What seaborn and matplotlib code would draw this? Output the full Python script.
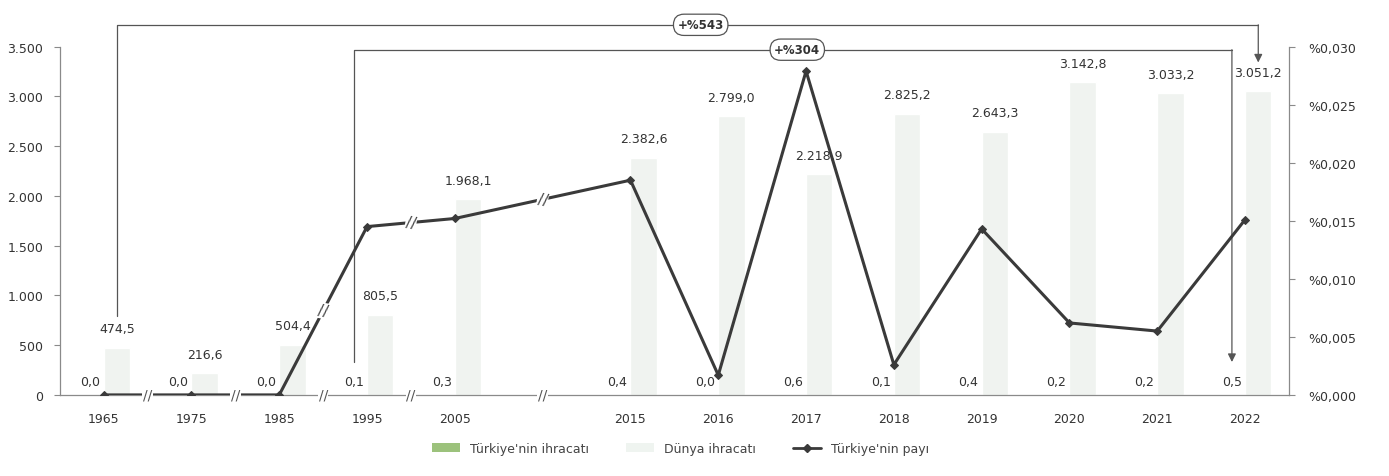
import numpy as np
import pandas as pd
import matplotlib.pyplot as plt
import seaborn as sns
from matplotlib.patches import Patch
from matplotlib.lines import Line2D

sns.set_theme(style='white')
plt.rcParams['font.family'] = ['DejaVu Sans']

# data
years = ["1965", "1975", "1985", "1995", "2005", "2015", "2016",
         "2017", "2018", "2019", "2020", "2021", "2022"]
slots = [0, 1, 2, 3, 4, 6, 7, 8, 9, 10, 11, 12, 13]   # slot 5 left empty (axis break)
world_exports = [474.5, 216.6, 504.4, 805.5, 1968.1, 2382.6, 2799.0,
                 2218.9, 2825.2, 2643.3, 3142.8, 3033.2, 3051.2]
turkey_exports = [0.0, 0.0, 0.0, 0.1, 0.3, 0.4, 0.0, 0.6, 0.1, 0.4, 0.2, 0.2, 0.5]
turkey_share = [0.0, 0.0, 0.0, 0.0145, 0.0152, 0.0185, 0.0017,
                0.0279, 0.0026, 0.0143, 0.0062, 0.0055, 0.0151]

lbl_tr = "Türkiye'nin ihracatı"
lbl_world = "Dünya ihracatı"
lbl_share = "Türkiye'nin payı"

green = '#9cc27c'
world_col = '#eff4f0'
line_col = '#3a3a3a'
txt_col = '#333333'
grey = '#8a8a8a'


def tr_num(v, d=1):
    s = f"{v:,.{d}f}"
    return s.replace(",", "X").replace(".", ",").replace("X", ".")


df = pd.DataFrame({
    'slot': slots * 2,
    'value': turkey_exports + world_exports,
    'series': [lbl_tr] * len(slots) + [lbl_world] * len(slots),
})

fig, ax = plt.subplots(figsize=(13.89, 4.77), dpi=100)
fig.subplots_adjust(left=0.043, right=0.928, bottom=0.17, top=0.90)

sns.barplot(data=df, x='slot', y='value', hue='series',
            hue_order=[lbl_tr, lbl_world], palette=[green, world_col],
            native_scale=True, width=0.6, dodge=True, legend=False, ax=ax)

# value labels
ax.bar_label(ax.containers[0], labels=[tr_num(v) for v in turkey_exports],
             padding=5, fontsize=9, color=txt_col)
ax.bar_label(ax.containers[1], labels=[tr_num(v) for v in world_exports],
             padding=9, fontsize=9, color=txt_col)

ax.set_xlim(-0.5, 13.5)
ax.set_ylim(0, 3500)
ax.set_yticks(np.arange(0, 3501, 500))
ax.set_yticklabels([tr_num(v, 0) for v in np.arange(0, 3501, 500)])
ax.set_xticks(slots)
ax.set_xticklabels(years)
ax.set_xlabel('')
ax.set_ylabel('')
ax.tick_params(axis='x', length=0, pad=12, labelsize=9, labelcolor=txt_col)
ax.tick_params(axis='y', length=4, width=0.8, color=grey, labelsize=9,
               labelcolor=txt_col, pad=8)

# share line on right axis
ax2 = ax.twinx()
sns.lineplot(x=slots, y=turkey_share, ax=ax2, color=line_col, linewidth=2.2,
             marker='D', markersize=4, markeredgecolor=line_col)
ax2.set_ylim(0, 0.030)
share_ticks = np.arange(0, 0.0301, 0.005)
ax2.set_yticks(share_ticks)
ax2.set_yticklabels(["%" + f"{v:.3f}".replace(".", ",") for v in share_ticks])
ax2.tick_params(axis='y', length=4, width=0.8, color=grey, labelsize=9,
                labelcolor=txt_col, pad=10)

for a in (ax, ax2):
    a.spines['top'].set_visible(False)
    for s in ('left', 'right', 'bottom'):
        a.spines[s].set_color(grey)
        a.spines[s].set_linewidth(0.9)
ax.spines['right'].set_visible(False)
ax2.spines['left'].set_visible(False)
ax2.spines['bottom'].set_visible(False)

# axis break marks on the x axis and on the line
for b in [0.5, 1.5, 2.5, 3.5, 5.0]:
    ax2.text(b, 0, "//", ha='center', va='center', fontsize=10, color='#555555',
             bbox=dict(facecolor='white', edgecolor='none', pad=0.5))
for b in [2.5, 3.5, 5.0]:
    yb = np.interp(b, slots, turkey_share)
    ax2.text(b, yb, "//", ha='center', va='center', fontsize=11, color='#444444',
             rotation=-10, bbox=dict(facecolor='white', edgecolor='none', pad=0.3))

# growth brackets
bk = dict(color='#555555', lw=0.9, clip_on=False)
x1a = slots[0] + 0.15
x1b = slots[-1] + 0.15
top1 = 3720
ax.plot([x1a, x1a, x1b], [world_exports[0] + 320, top1, top1], **bk)
ax.annotate('', xy=(x1b, world_exports[-1] + 290), xytext=(x1b, top1),
            arrowprops=dict(arrowstyle='-|>', color='#555555', lw=0.9,
                            shrinkA=0, shrinkB=0), annotation_clip=False)
ax.text(6.8, top1, "+%543", ha='center', va='center', fontsize=8.5,
        fontweight='bold', color=txt_col,
        bbox=dict(boxstyle='round,pad=0.35,rounding_size=0.9',
                  facecolor='white', edgecolor='#555555', lw=0.9))

x2a = slots[3] - 0.15
x2b = slots[-1] - 0.15
top2 = 3470
ax.plot([x2a, x2a, x2b], [turkey_exports[3] + 330, top2, top2], **bk)
ax.annotate('', xy=(x2b, turkey_exports[-1] + 330), xytext=(x2b, top2),
            arrowprops=dict(arrowstyle='-|>', color='#555555', lw=0.9,
                            shrinkA=0, shrinkB=0), annotation_clip=False)
ax.text(7.9, top2, "+%304", ha='center', va='center', fontsize=8.5,
        fontweight='bold', color=txt_col,
        bbox=dict(boxstyle='round,pad=0.35,rounding_size=0.9',
                  facecolor='white', edgecolor='#555555', lw=0.9))

# legend
handles = [Patch(facecolor=green, edgecolor='none'),
           Patch(facecolor=world_col, edgecolor='none'),
           Line2D([], [], color=line_col, lw=2, marker='D', markersize=4)]
fig.legend(handles, [lbl_tr, lbl_world, lbl_share], loc='lower center',
           bbox_to_anchor=(0.49, 0.02), ncol=3, frameon=False, fontsize=9,
           labelcolor='#444444', handlelength=2.2, columnspacing=3)

plt.savefig('out.png', dpi=100)
plt.close()
